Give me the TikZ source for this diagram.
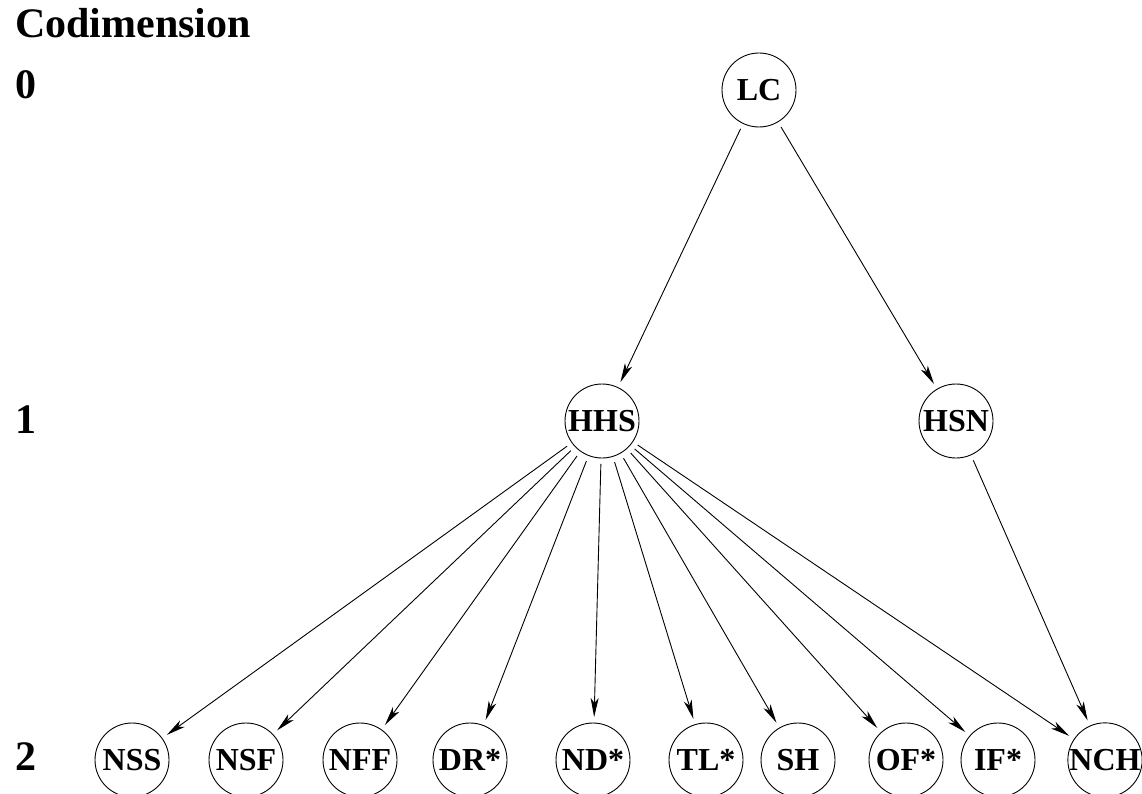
\documentclass[tikz,border=0pt]{standalone}
\usepackage{fontspec}
\setmainfont{Liberation Serif}
\usetikzlibrary{arrows.meta}
\begin{document}
\begin{tikzpicture}[x=1pt,y=-1pt,
  state/.style={circle,draw,line width=0.9pt,minimum size=74pt,inner sep=0pt,outer sep=6pt,font=\fontsize{32}{34}\selectfont\bfseries},
  lvl/.style={anchor=base west,inner sep=0pt,font=\fontsize{42}{46}\selectfont\bfseries},
  conn/.style={line width=0.9pt,-{Stealth[length=19pt,width=8pt,inset=5pt]}}]
\useasboundingbox (0,0) rectangle (1142,794);
\node[lvl] (title) at (15,38) {Codimension};
\node[lvl] (l0) at (15,99) {0};
\node[lvl] (l1) at (15,433) {1};
\node[lvl] (l2) at (15,770) {2};
\node[state] (LC) at (759,90) {LC};
\node[state] (HHS) at (602,421) {HHS};
\node[state] (HSN) at (956,421) {HSN};
\node[state] (NSS) at (132,760) {NSS};
\node[state] (NSF) at (246,760) {NSF};
\node[state] (NFF) at (360,760) {NFF};
\node[state] (DR) at (470,760) {DR*};
\node[state] (ND) at (593,760) {ND*};
\node[state] (TL) at (706,760) {TL*};
\node[state] (SH) at (798,760) {SH};
\node[state] (OF) at (906,760) {OF*};
\node[state] (IF) at (998,760) {IF*};
\node[state] (NCH) at (1105,760) {NCH};
\draw[conn] (LC) -- (HHS);
\draw[conn] (LC) -- (HSN);
\foreach \t in {NSS,NSF,NFF,DR,ND,TL,SH,OF,IF,NCH}
  \draw[conn] (HHS) -- (\t);
\draw[conn] (HSN) -- (NCH);
\end{tikzpicture}
\end{document}
